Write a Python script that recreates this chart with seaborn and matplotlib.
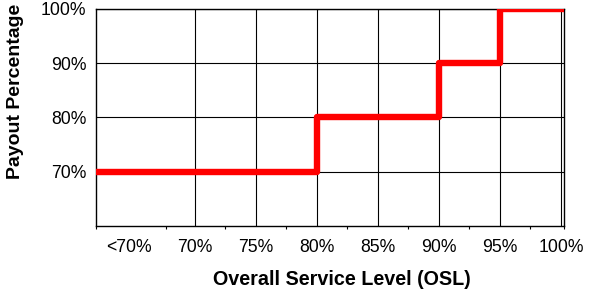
import matplotlib
matplotlib.use("Agg")
import matplotlib.pyplot as plt
import seaborn as sns
import pandas as pd
from matplotlib.ticker import FixedLocator

sns.set_theme(style="white")
plt.rcParams['font.family'] = ['Liberation Sans', 'DejaVu Sans']

# Data
tick_values = [64.6, 70, 75, 80, 85, 90, 95, 100]
tick_labels = ["<70%", "70%", "75%", "80%", "85%", "90%", "95%", "100%"]
osl_breaks = [61.9, 80, 90, 95, 100.25]
payout = [70, 80, 90, 100, 100]
y_ticks = [70, 80, 90, 100]
y_labels = ["70%", "80%", "90%", "100%"]

df = pd.DataFrame({"osl": osl_breaks, "payout": payout})

fig = plt.figure(figsize=(5.92, 2.91), dpi=100)
ax = fig.add_axes([96/592, 1-226/291, (564-96)/592, (226-9)/291])

sns.lineplot(data=df, x="osl", y="payout", drawstyle="steps-post",
             color="#FF0000", linewidth=4.6, ax=ax, zorder=3)

ax.set_xlim(61.9, 100.25)
ax.set_ylim(60, 100)

ax.set_xticks(tick_values)
ax.set_xticklabels(tick_labels, fontsize=12.7)
ax.xaxis.set_minor_locator(FixedLocator([61.9, 67.6, 72.5, 77.5, 82.5, 87.5, 92.5, 97.5, 100.25]))
ax.tick_params(axis="x", which="major", length=0, pad=9, colors="black")
ax.tick_params(axis="x", which="minor", length=2.5, width=0.8, color="black", bottom=True, direction="out")

ax.set_yticks(y_ticks)
ax.set_yticklabels(y_labels, fontsize=12.7)
ax.tick_params(axis="y", length=0, pad=7, colors="black")

ax.grid(True, which="major", color="black", linewidth=0.8)
ax.xaxis.get_gridlines()[0].set_visible(False)

for s in ax.spines.values():
    s.set_visible(True)
    s.set_color("black")
    s.set_linewidth(1.0)

ax.set_xlabel("Overall Service Level (OSL)", fontsize=14.2, fontweight="bold", color="black")
ax.set_ylabel("Payout Percentage", fontsize=14, fontweight="bold", color="black")
ax.xaxis.set_label_coords(0.526, -0.205)
ax.yaxis.set_label_coords(-0.154, 0.62)

fig.savefig("out.png", dpi=100)
